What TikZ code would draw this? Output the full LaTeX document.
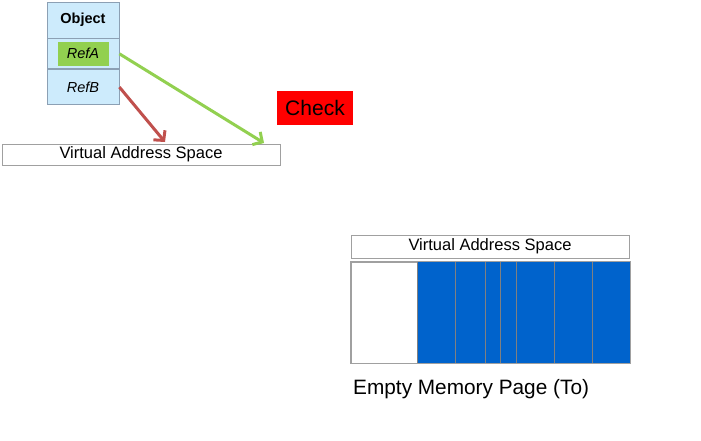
\documentclass[tikz,border=0pt]{standalone}
\usepackage{fontspec}
\setmainfont{Liberation Sans}
\usetikzlibrary{arrows.meta,positioning}
\usepackage{xcolor}

\definecolor{cellblue}{RGB}{205,235,252}
\definecolor{cellline}{RGB}{140,160,180}
\definecolor{refgreen}{RGB}{146,208,80}
\definecolor{refred}{RGB}{192,80,77}
\definecolor{pageblue}{RGB}{0,99,204}
\definecolor{boxgray}{RGB}{160,160,160}

\begin{document}
\begin{tikzpicture}[x=1pt,y=-1pt,>={Straight Barb[length=7pt,width=15pt]},
        cell/.style={draw=cellline,fill=cellblue,line width=0.8pt,minimum width=72pt,inner sep=0pt},
        tag/.style={fill=refgreen,minimum width=51pt,minimum height=24pt,inner sep=0pt},
        vas/.style={draw=boxgray,fill=white,line width=0.8pt,minimum width=278pt,inner sep=0pt,
            font=\fontsize{16.5}{18}\selectfont},
        ptr/.style={->,line width=3pt}]
    \useasboundingbox (0,0) rectangle (701,440);

    \node[cell,minimum height=36pt] (obj) at (83,20) {\fontsize{14.5}{16}\selectfont\bfseries Object};
    \node[cell,minimum height=30pt] (refA) [below=0pt of obj] {};
    \node[cell,minimum height=35pt] (refB) [below=0pt of refA] {\fontsize{14.5}{16}\selectfont\itshape RefB};
    \node[tag] (tagA) at (refA) {\fontsize{14.5}{16}\selectfont\itshape RefA};

    \node[vas,minimum height=21pt] (vasA) at (141,154.5) {Virtual Address Space};
    \node[fill=red,minimum width=76pt,minimum height=34pt,inner sep=0pt] (check) at (315,108)
        {\fontsize{21}{24}\selectfont Check};

    \coordinate (hitA) at (264,143);
    \coordinate (hitB) at (165,142);
    \draw[ptr,refgreen] (refA.east) -- (hitA);
    \draw[ptr,refred] (refB.east) -- (hitB);

    \node[vas,minimum height=23pt] (vasB) at (490,246.5) {Virtual Address Space};
    \node[draw=boxgray,line width=0.8pt,minimum width=279pt,minimum height=101pt,inner sep=0pt] (mem) at (490.5,312.5) {};
    \fill[pageblue] (417,262) rectangle (mem.south east);
    \foreach \x in {417,455,485,500,516,554,592}
        \draw[gray,line width=0.8pt] (\x,262) -- (\x,363);
    \draw[boxgray,line width=0.8pt] (mem.north west) rectangle (mem.south east);

    \node[anchor=west,inner sep=0pt,font=\fontsize{20.8}{23}\selectfont] (empty) at (353,389) {Empty Memory Page (To)};
\end{tikzpicture}
\end{document}
